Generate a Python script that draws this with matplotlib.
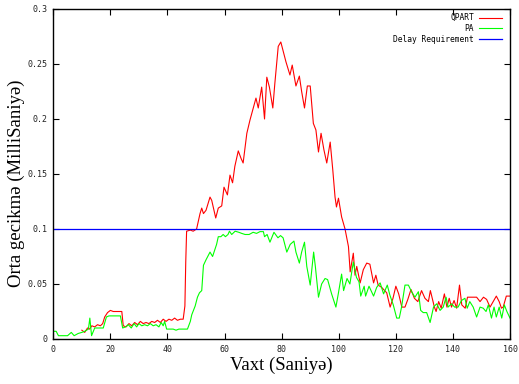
import matplotlib
matplotlib.use('Agg')
import matplotlib.pyplot as plt

# - - - - - - - - - - Data - - - - - - - - - - #

# QPART average delay
qpart_t = [10, 11, 12, 12.7, 13.5, 14.5, 15.5, 16.5, 17.3, 18, 19, 20, 21, 22, 23, 24,
           24.5, 25.5, 26.5, 27.5, 28.5, 29.5, 30.5, 31.5, 32.5, 33.5, 34.5, 35.5, 36.5,
           37.5, 38.5, 39.5, 40.5, 41.5, 42.5, 43.5, 44.5, 45.5, 46.1, 46.4, 46.7, 48, 49,
           50.2, 51.4, 52, 52.6, 53.5, 54.9, 55.5, 56.9, 57.8, 59, 59.8, 61, 61.9, 62.8,
           63.6, 64.8, 65.8, 66.5, 67.8, 68.9, 71, 71.8, 73, 74, 74.8, 75.7, 76.9, 77.6,
           78.8, 79.7, 80.5, 81.5, 82.9, 83.7, 85, 86.2, 87, 88, 89, 90, 91.1, 92, 92.9,
           93.8, 94.8, 95.8, 97, 97.9, 98.7, 99.2, 99.9, 101, 102.2, 103.4, 104, 105.1,
           105.7, 106.3, 107.5, 108.6, 109.8, 110.9, 112.2, 113, 113.8, 115, 116.8, 118,
           119, 120, 121, 122.1, 123.2, 124.2, 125.3, 126.5, 127.7, 129, 130.2, 131.4,
           132.1, 133.5, 134.1, 135, 135.9, 137, 137.9, 138.7, 139.5, 140.4, 141.3, 142.3,
           143.1, 144.3, 145.1, 146.6, 148.3, 149.5, 150.7, 151.8, 153, 154.1, 155.2,
           156.2, 157, 157.6, 158.7, 160]
qpart_v = [0.008, 0.006, 0.010, 0.009, 0.012, 0.011, 0.013, 0.012, 0.014, 0.020, 0.024,
           0.026, 0.025, 0.025, 0.025, 0.025, 0.012, 0.011, 0.014, 0.012, 0.015, 0.013,
           0.016, 0.014, 0.015, 0.014, 0.016, 0.015, 0.017, 0.015, 0.018, 0.016, 0.018,
           0.017, 0.019, 0.017, 0.018, 0.018, 0.030, 0.070, 0.098, 0.099, 0.098, 0.100,
           0.114, 0.119, 0.114, 0.117, 0.129, 0.126, 0.110, 0.119, 0.121, 0.138, 0.131,
           0.149, 0.142, 0.157, 0.171, 0.164, 0.160, 0.187, 0.199, 0.219, 0.210, 0.229,
           0.200, 0.238, 0.229, 0.210, 0.232, 0.266, 0.270, 0.262, 0.252, 0.240, 0.249,
           0.230, 0.239, 0.225, 0.210, 0.230, 0.230, 0.196, 0.190, 0.170, 0.187, 0.172,
           0.160, 0.179, 0.154, 0.129, 0.120, 0.128, 0.111, 0.100, 0.084, 0.061, 0.078,
           0.058, 0.066, 0.051, 0.063, 0.069, 0.068, 0.051, 0.058, 0.049, 0.047, 0.042,
           0.029, 0.037, 0.048, 0.041, 0.029, 0.029, 0.036, 0.045, 0.037, 0.034, 0.044,
           0.037, 0.034, 0.044, 0.029, 0.025, 0.034, 0.028, 0.041, 0.029, 0.037, 0.029,
           0.035, 0.028, 0.049, 0.031, 0.028, 0.038, 0.038, 0.038, 0.034, 0.038, 0.036,
           0.029, 0.034, 0.039, 0.034, 0.028, 0.029, 0.039, 0.039]

# PA average delay
pa_t = [0, 1, 1.8, 3, 4, 5, 6.3, 7.3, 8.7, 10, 11, 12.3, 12.8, 13.4, 14.5, 15.5, 16.5,
        17.5, 18.6, 19.5, 20.5, 21.5, 22.5, 23.5, 24.3, 25.3, 26.3, 27.3, 28.3, 29.2, 30,
        31, 32, 33, 34, 35, 36, 37, 37.8, 38.5, 39, 39.7, 41, 42, 43, 44, 45, 46, 47, 48,
        48.5, 49.7, 50.5, 51.2, 52, 52.6, 53.5, 54.9, 55.8, 57.2, 57.8, 58.7, 59.5, 60.3,
        61.2, 61.7, 62.5, 63.7, 65, 66, 67.2, 68.6, 70, 71.2, 72.4, 73.6, 74, 74.9, 75.9,
        77.3, 78.7, 79.6, 80.5, 81.8, 83, 84.3, 85, 86.2, 87, 88, 88.8, 90, 91.2, 91.8,
        92.9, 94, 95.2, 96.1, 97.5, 99, 99.9, 101, 101.7, 102.9, 103.9, 105.1, 106.2,
        107.1, 107.7, 108.9, 109.4, 110.6, 112.2, 113.3, 114.5, 115.7, 117, 117.9, 119.1,
        120.3, 121.2, 122, 123.2, 124.4, 125.5, 126.7, 127.9, 128.7, 129.6, 130.8, 132,
        133.2, 134.3, 135.5, 136.6, 137.6, 138.3, 139.5, 140.6, 141.8, 143, 144.2, 145,
        145.9, 147.1, 148.3, 149.5, 150.6, 151.6, 152.4, 153.5, 154.4, 155.2, 156.2,
        157.1, 158, 158.9, 160]
pa_v = [0.007, 0.007, 0.003, 0.003, 0.003, 0.003, 0.006, 0.003, 0.005, 0.006, 0.007,
        0.009, 0.019, 0.003, 0.010, 0.010, 0.010, 0.010, 0.020, 0.021, 0.021, 0.021, 0.021,
        0.021, 0.010, 0.011, 0.013, 0.010, 0.014, 0.011, 0.014, 0.012, 0.013, 0.012, 0.014,
        0.012, 0.013, 0.011, 0.015, 0.012, 0.016, 0.009, 0.009, 0.009, 0.008, 0.009, 0.009,
        0.009, 0.009, 0.016, 0.022, 0.030, 0.038, 0.042, 0.044, 0.067, 0.072, 0.079, 0.075,
        0.086, 0.093, 0.093, 0.095, 0.093, 0.095, 0.098, 0.095, 0.098, 0.097, 0.096, 0.095,
        0.095, 0.097, 0.096, 0.0976, 0.0976, 0.093, 0.095, 0.088, 0.097, 0.092, 0.094,
        0.092, 0.079, 0.086, 0.089, 0.079, 0.069, 0.079, 0.088, 0.066, 0.049, 0.079, 0.066,
        0.038, 0.050, 0.055, 0.054, 0.041, 0.029, 0.042, 0.059, 0.044, 0.055, 0.050, 0.070,
        0.056, 0.052, 0.039, 0.048, 0.039, 0.048, 0.039, 0.047, 0.051, 0.041, 0.049, 0.040,
        0.031, 0.019, 0.019, 0.029, 0.049, 0.049, 0.043, 0.038, 0.043, 0.026, 0.024, 0.024,
        0.015, 0.029, 0.032, 0.026, 0.029, 0.038, 0.029, 0.032, 0.029, 0.029, 0.035, 0.037,
        0.028, 0.034, 0.029, 0.020, 0.029, 0.028, 0.025, 0.031, 0.019, 0.029, 0.020, 0.029,
        0.019, 0.031, 0.025, 0.019]

# Delay requirement (constant)
delay_req = 0.1

x_ticks = [0, 20, 40, 60, 80, 100, 120, 140, 160]
y_ticks = [0, 0.05, 0.1, 0.15, 0.2, 0.25, 0.3]
y_tick_labels = ['0', '0.05', '0.1', '0.15', '0.2', '0.25', '0.3']

# - - - - - - - - - - Plot - - - - - - - - - - #

fig = plt.figure(figsize=(5.19, 3.84), dpi=100)
ax = fig.add_axes([0.1027, 0.1172, 0.88, 0.8594])

ax.plot(qpart_t, qpart_v, color='#ff0000', lw=0.8, label='QPART')
ax.plot(pa_t, pa_v, color='#00ff00', lw=0.8, label='PA')
ax.axhline(delay_req, color='#0000ff', lw=0.9, label='Delay Requirement')

ax.set_xlim(0, 160)
ax.set_ylim(0, 0.3)
ax.set_xticks(x_ticks)
ax.set_yticks(y_ticks)
ax.set_yticklabels(y_tick_labels)

# gnuplot look: inward ticks mirrored on every side
ax.tick_params(direction='in', length=4, width=0.8, top=True, right=True,
               labelsize=6, pad=4, labelcolor='#222222')
for lab in ax.get_xticklabels() + ax.get_yticklabels():
    lab.set_family('DejaVu Sans Mono')
for sp in ax.spines.values():
    sp.set_linewidth(1.0)

ax.set_xlabel('Vaxt (Saniyə)', family='Liberation Serif', fontsize=13.5, labelpad=2)
ax.set_ylabel('Orta gecikmə (MilliSaniyə)', family='Liberation Serif', fontsize=13.5)
ax.yaxis.set_label_coords(-0.062, 0.473)

# legend: label first, right-aligned column (markerfirst=False does that)
ax.legend(loc='upper right', bbox_to_anchor=(0.991, 1.0), markerfirst=False,
          frameon=False, prop={'family': 'DejaVu Sans Mono', 'size': 5.7},
          handlelength=2.9, handletextpad=0.6, labelspacing=0.2,
          borderaxespad=0.25, borderpad=0.3)

fig.savefig('out.png', dpi=100)
